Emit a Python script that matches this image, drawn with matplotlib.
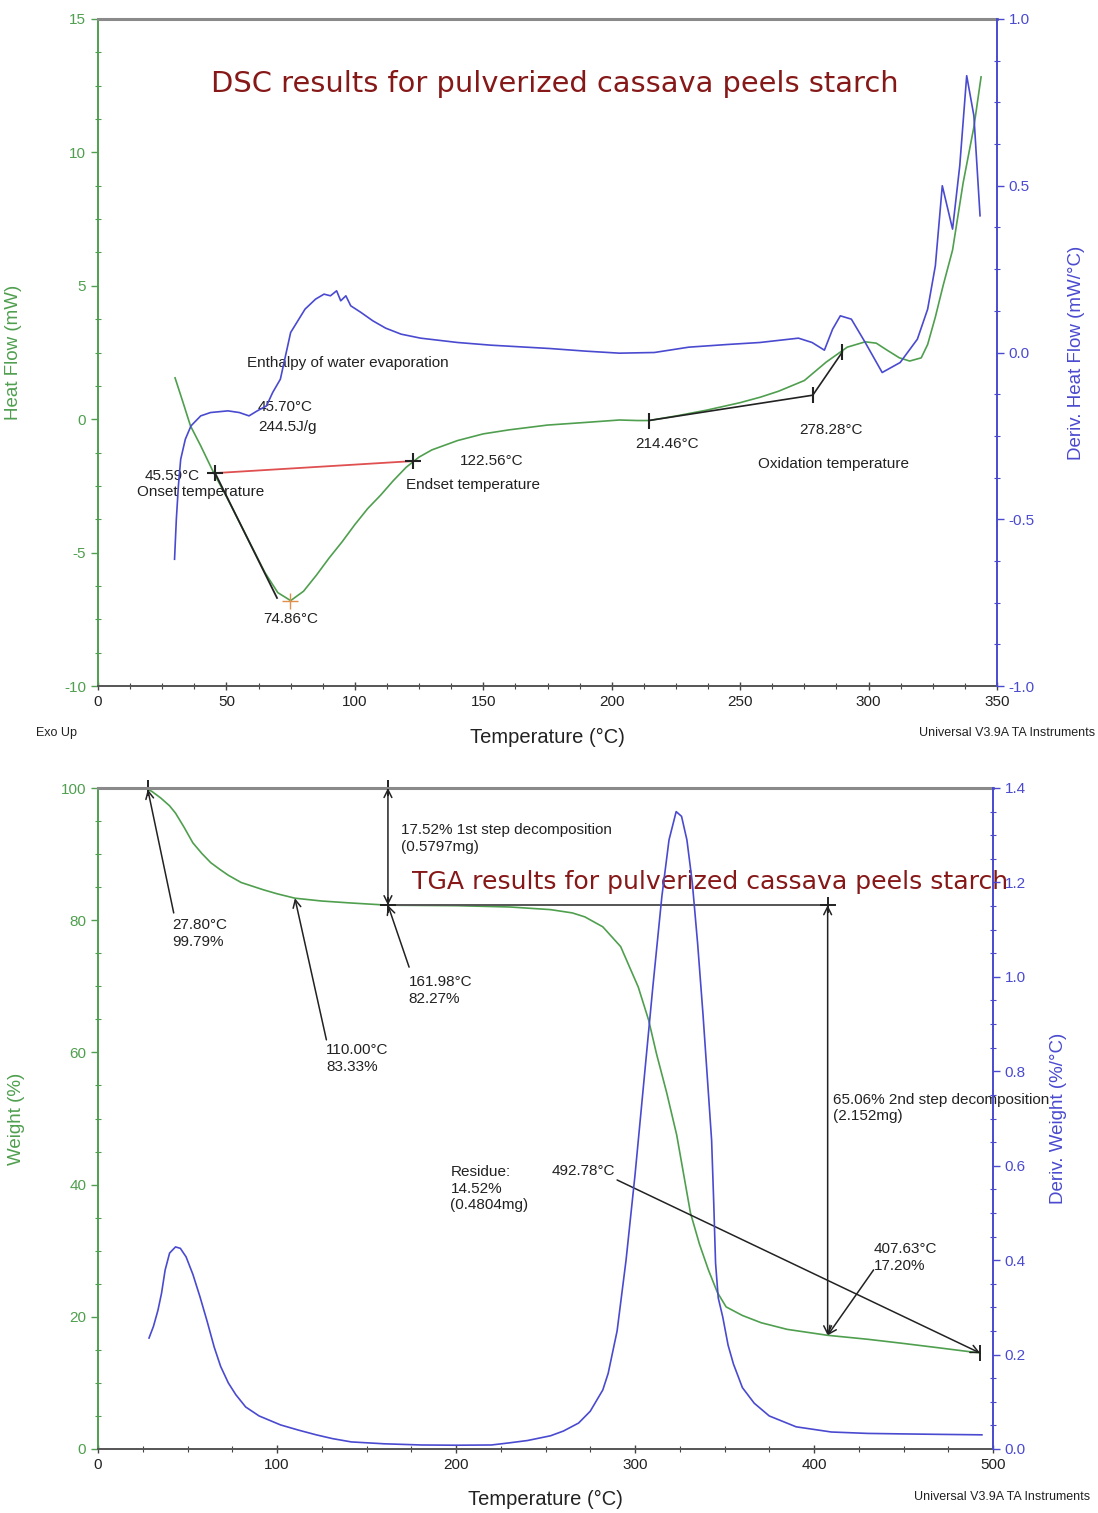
import numpy as np
import matplotlib
matplotlib.use('Agg')
import matplotlib.pyplot as plt
from matplotlib.ticker import MultipleLocator

plt.rcParams['font.family'] = ['Liberation Sans', 'DejaVu Sans']
plt.rcParams['axes.unicode_minus'] = False

GREEN = '#4f9f4f'
BLUE = '#4a4ad0'
TITLE_RED = '#861818'
TXT = '#222222'

# ---- DSC data ----
dsc_temp = [30, 33, 36, 40, 45, 50, 55, 60, 65, 70, 75, 80, 85, 90, 95, 100, 105, 110,
            115, 120, 125, 130, 140, 150, 160, 175, 190, 203, 210, 214.5, 225, 237, 250,
            258, 265, 275, 283.5, 291.7, 298.7, 303, 307, 312, 316, 320.5, 323, 326, 329,
            332.7, 336.8, 341, 343.8]
dsc_heat = [1.55, 0.66, -0.25, -1.0, -2.0, -2.9, -3.85, -4.8, -5.75, -6.5, -6.8, -6.45,
            -5.85, -5.2, -4.6, -3.95, -3.35, -2.85, -2.3, -1.8, -1.42, -1.15, -0.8, -0.55,
            -0.4, -0.22, -0.12, -0.03, -0.05, -0.05, 0.12, 0.34, 0.62, 0.83, 1.05, 1.45,
            2.14, 2.7, 2.9, 2.85, 2.6, 2.3, 2.18, 2.3, 2.8, 3.83, 5.0, 6.34, 8.85, 10.95, 12.83]

dsc_dtemp = [29.8, 30.5, 31.3, 32.2, 34, 36.2, 40, 43.8, 50.6, 55, 58.8, 62, 65.6, 68, 71,
             75, 80.6, 84.7, 88, 90.5, 92.9, 94.5, 96.5, 98.4, 102.4, 107, 112, 118, 125.6,
             140, 152.9, 175.8, 190, 203, 216.6, 230, 245, 257.7, 272.7, 278, 282.8, 286,
             289, 293.3, 298.7, 305.3, 312.3, 319, 323, 326, 328.7, 332.7, 335.5, 338.2,
             341, 343.4]
dsc_deriv = [-0.62, -0.5, -0.4, -0.32, -0.26, -0.22, -0.19, -0.18, -0.175, -0.18, -0.19,
             -0.175, -0.16, -0.12, -0.08, 0.06, 0.13, 0.16, 0.175, 0.17, 0.185, 0.155, 0.17,
             0.14, 0.12, 0.095, 0.073, 0.055, 0.043, 0.03, 0.022, 0.012, 0.004, -0.002, 0.0,
             0.016, 0.024, 0.03, 0.043, 0.03, 0.007, 0.07, 0.11, 0.1, 0.03, -0.06, -0.03,
             0.04, 0.13, 0.26, 0.5, 0.37, 0.56, 0.83, 0.71, 0.41]

# ---- TGA data ----
tga_temp = [27.8, 30, 35, 40, 43.3, 48, 53, 58, 63, 68, 72.8, 80, 92.4, 100, 110, 125,
            141.5, 161.98, 200, 230, 252.8, 265, 272, 282, 292, 301.8, 307.6, 312, 317.7,
            323.3, 331, 336, 341, 346, 350.9, 360, 370.5, 385, 407.63, 430, 449, 470, 492.78]
tga_weight = [99.79, 99.5, 98.5, 97.3, 96.2, 94.1, 91.7, 90.1, 88.7, 87.7, 86.8, 85.7, 84.6,
              84.0, 83.33, 82.9, 82.6, 82.27, 82.2, 82.0, 81.6, 81.1, 80.5, 79.0, 76.0, 69.9,
              64.9, 59.8, 53.9, 47.5, 35.7, 31.0, 27.1, 23.7, 21.5, 20.2, 19.1, 18.1, 17.2,
              16.6, 16.0, 15.3, 14.52]

tga_dtemp = [28.5, 31, 33.5, 35.5, 37.5, 40, 43.3, 46, 49.2, 53, 57, 61, 64.9, 68.5, 72.8,
             77, 82.5, 90, 102, 112, 121.9, 131, 141.5, 160, 180.7, 200, 219.8, 229.8, 240,
             252.8, 260, 268.5, 275, 282, 285, 290, 295, 300, 305, 310, 315, 319, 323, 326,
             329, 332, 335, 338, 341, 342.8, 344, 345, 346.5, 349, 352, 355, 360, 366.6, 375,
             390, 409.7, 430, 449, 470, 493.8]
tga_deriv = [0.235, 0.26, 0.294, 0.33, 0.379, 0.415, 0.428, 0.425, 0.407, 0.37, 0.322, 0.27,
             0.216, 0.175, 0.14, 0.115, 0.089, 0.07, 0.051, 0.04, 0.03, 0.022, 0.015, 0.011,
             0.0085, 0.008, 0.0085, 0.013, 0.018, 0.028, 0.038, 0.055, 0.08, 0.125, 0.16,
             0.25, 0.4, 0.58, 0.78, 0.98, 1.17, 1.29, 1.35, 1.34, 1.29, 1.2, 1.07, 0.92, 0.754,
             0.654, 0.52, 0.394, 0.32, 0.28, 0.22, 0.18, 0.13, 0.097, 0.07, 0.047, 0.036,
             0.033, 0.032, 0.031, 0.03]

fig = plt.figure(figsize=(10.98, 15.13), dpi=100)


def style_axes(ax, ax2):
    for s in ['top', 'bottom', 'left', 'right']:
        ax2.spines[s].set_visible(s == 'right')
    ax.spines['right'].set_visible(False)
    ax.spines['left'].set_color(GREEN)
    ax.spines['top'].set_color('#8a8a8a')
    ax.spines['top'].set_linewidth(2.2)
    ax.spines['bottom'].set_color('#555555')
    ax.spines['bottom'].set_linewidth(1.4)
    ax2.spines['right'].set_color(BLUE)
    ax2.spines['right'].set_linewidth(1.4)
    ax.spines['left'].set_linewidth(1.4)
    ax.tick_params(axis='y', which='both', colors=GREEN, labelsize=11)
    ax2.tick_params(axis='y', which='both', colors=BLUE, labelsize=11)
    ax.tick_params(axis='x', which='both', colors='#444444', labelcolor=TXT, labelsize=11)
    for a in (ax, ax2):
        a.tick_params(which='major', direction='out', length=5, width=1)
        a.tick_params(which='minor', direction='inout', length=4, width=0.8)
    ax.tick_params(axis='x', which='major', direction='inout', length=6)


# ================= DSC panel =================
ax = fig.add_axes([98 / 1098, 1 - 686 / 1513, 899 / 1098, 667 / 1513])
ax2 = ax.twinx()
style_axes(ax, ax2)

ax.plot(dsc_temp, dsc_heat, color=GREEN, lw=1.2)
ax2.plot(dsc_dtemp, dsc_deriv, color=BLUE, lw=1.2)

ax.set_xlim(0, 350)
ax.set_ylim(-10, 15)
ax2.set_ylim(-1.0, 1.0)
ax.xaxis.set_major_locator(MultipleLocator(50))
ax.xaxis.set_minor_locator(MultipleLocator(12.5))
ax.yaxis.set_major_locator(MultipleLocator(5))
ax.yaxis.set_minor_locator(MultipleLocator(1.25))
ax2.yaxis.set_major_locator(MultipleLocator(0.5))
ax2.yaxis.set_minor_locator(MultipleLocator(0.125))
ax2.yaxis.set_major_formatter(plt.FormatStrFormatter('%.1f'))

ax.set_ylabel('Heat Flow (mW)', color=GREEN, fontsize=13.5)
ax.yaxis.set_label_coords(-0.085, 0.5)
ax2.set_ylabel('Deriv. Heat Flow (mW/°C)', color=BLUE, fontsize=13.5)
ax2.yaxis.set_label_coords(1.079, 0.5)
ax.set_xlabel('Temperature (°C)', fontsize=14.5, color=TXT)
ax.xaxis.set_label_coords(0.5, -0.0765)
ax.xaxis.label.set_va('center')

# annotations
ax.plot([45.59, 122.56], [-2.02, -1.57], color='#e05050', lw=1.3)
ax.plot([45.59, 69.7], [-2.02, -6.7], color='#222222', lw=1.3)
ax.plot([45.59, 122.56], [-2.02, -1.57], ls='none', marker='+', ms=12, mew=1.5, color='#222222')
ax.plot([74.86], [-6.8], marker='+', ms=12, mew=1, color='#e0904a')
ax.plot([214.46, 278.28, 289.8], [-0.05, 0.9, 2.52], color='#222222', lw=1.2)
ax.plot([214.46, 278.28, 289.8], [-0.05, 0.9, 2.52], ls='none', marker='|', ms=12, mew=1.5, color='#222222')

fs = 11
ax.text(177.8, 12.56, 'DSC results for pulverized cassava peels starch', color=TITLE_RED,
        fontsize=20.8, ha='center', va='center', family='DejaVu Sans')
ax.text(58, 2.1, 'Enthalpy of water evaporation', fontsize=fs, color=TXT, va='center')
ax.text(62.2, 0.46, '45.70°C', fontsize=fs, color=TXT, va='center')
ax.text(62.2, -0.29, '244.5J/g', fontsize=fs, color=TXT, va='center')
ax.text(39.7, -2.13, '45.59°C', fontsize=fs, color=TXT, va='center', ha='right')
ax.text(15.2, -2.73, 'Onset temperature', fontsize=fs, color=TXT, va='center')
ax.text(140.8, -1.57, '122.56°C', fontsize=fs, color=TXT, va='center')
ax.text(119.8, -2.47, 'Endset temperature', fontsize=fs, color=TXT, va='center')
ax.text(75, -7.49, '74.86°C', fontsize=fs, color=TXT, va='center', ha='center')
ax.text(221.7, -0.93, '214.46°C', fontsize=fs, color=TXT, va='center', ha='center')
ax.text(285.5, -0.4, '278.28°C', fontsize=fs, color=TXT, va='center', ha='center')
ax.text(286.3, -1.68, 'Oxidation temperature', fontsize=fs, color=TXT, va='center', ha='center')

fig.text(57 / 1098, 1 - 733 / 1513, 'Exo Up', fontsize=9, color=TXT, ha='center', va='center')
fig.text(1095 / 1098, 1 - 733 / 1513, 'Universal V3.9A TA Instruments', fontsize=9,
         color=TXT, ha='right', va='center')

# ================= TGA panel =================
bx = fig.add_axes([98 / 1098, 1 - 1449 / 1513, 895 / 1098, 661 / 1513])
bx2 = bx.twinx()
style_axes(bx, bx2)

bx.plot(tga_temp, tga_weight, color=GREEN, lw=1.2)
bx2.plot(tga_dtemp, tga_deriv, color=BLUE, lw=1.2)

bx.set_xlim(0, 500)
bx.set_ylim(0, 100)
bx2.set_ylim(0, 1.4)
bx.xaxis.set_major_locator(MultipleLocator(100))
bx.xaxis.set_minor_locator(MultipleLocator(25))
bx.yaxis.set_major_locator(MultipleLocator(20))
bx.yaxis.set_minor_locator(MultipleLocator(5))
bx2.yaxis.set_major_locator(MultipleLocator(0.2))
bx2.yaxis.set_minor_locator(MultipleLocator(0.05))
bx2.yaxis.set_major_formatter(plt.FormatStrFormatter('%.1f'))

bx.set_ylabel('Weight (%)', color=GREEN, fontsize=13.5)
bx.yaxis.set_label_coords(-0.0816, 0.5)
bx2.set_ylabel('Deriv. Weight (%/°C)', color=BLUE, fontsize=13.5)
bx2.yaxis.set_label_coords(1.064, 0.5)
bx.set_xlabel('Temperature (°C)', fontsize=14.5, color=TXT)
bx.xaxis.set_label_coords(0.5, -0.077)
bx.xaxis.label.set_va('center')

# step lines
bx.plot([27.8, 164], [100, 100], color='#222222', lw=1.8, clip_on=False)
bx.plot([161.98, 407.63], [82.27, 82.27], color='#555555', lw=1.4)
bx.plot([27.8, 161.98, 161.98, 407.63], [100, 100, 82.27, 82.27], ls='none', marker='+',
        ms=12, mew=1.4, color='#222222', clip_on=False)
bx.plot([492.78], [14.52], marker='|', ms=12, mew=1.4, color='#222222')
arrow_kw = dict(arrowstyle='<->', color='#222222', lw=1.1, shrinkA=0, shrinkB=0,
                mutation_scale=14)
bx.annotate('', xy=(161.98, 100), xytext=(161.98, 82.27), arrowprops=arrow_kw)
bx.annotate('', xy=(407.63, 82.27), xytext=(407.63, 17.2), arrowprops=arrow_kw)

pt_kw = dict(arrowstyle='->', color='#222222', lw=1.1, shrinkA=0, shrinkB=0, mutation_scale=14)
bx.annotate('', xy=(27.8, 99.79), xytext=(42.3, 81.1), arrowprops=pt_kw)
bx.annotate('', xy=(110, 83.33), xytext=(127.6, 61.9), arrowprops=pt_kw)
bx.annotate('', xy=(161.98, 82.27), xytext=(173.8, 72.9), arrowprops=pt_kw)
bx.annotate('', xy=(407.63, 17.2), xytext=(433.3, 27.1), arrowprops=pt_kw)
bx.annotate('', xy=(492.78, 14.52), xytext=(290, 40.7), arrowprops=pt_kw)

bx.text(175.6, 85.8, 'TGA results for pulverized cassava peels starch', color=TITLE_RED,
        fontsize=18.1, ha='left', va='center', family='DejaVu Sans')
ls = 1.25
bx.text(41.4, 80.3, '27.80°C\n99.79%', fontsize=fs, color=TXT, va='top', linespacing=ls)
bx.text(127.5, 61.4, '110.00°C\n83.33%', fontsize=fs, color=TXT, va='top', linespacing=ls)
bx.text(173.4, 71.7, '161.98°C\n82.27%', fontsize=fs, color=TXT, va='top', linespacing=ls)
bx.text(433.4, 31.3, '407.63°C\n17.20%', fontsize=fs, color=TXT, va='top', linespacing=ls)
bx.text(196.9, 43.0, 'Residue:\n14.52%\n(0.4804mg)', fontsize=fs, color=TXT, va='top',
        linespacing=ls)
bx.text(253.4, 42.1, '492.78°C', fontsize=fs, color=TXT, va='center')
bx.text(169, 94.7, '17.52% 1st step decomposition\n(0.5797mg)', fontsize=fs, color=TXT,
        va='top', linespacing=ls)
bx.text(410.5, 53.9, '65.06% 2nd step decomposition\n(2.152mg)', fontsize=fs, color=TXT,
        va='top', linespacing=ls)

fig.text(1090 / 1098, 1 - 1497 / 1513, 'Universal V3.9A TA Instruments', fontsize=9,
         color=TXT, ha='right', va='center')

fig.savefig('out.png', dpi=100)
